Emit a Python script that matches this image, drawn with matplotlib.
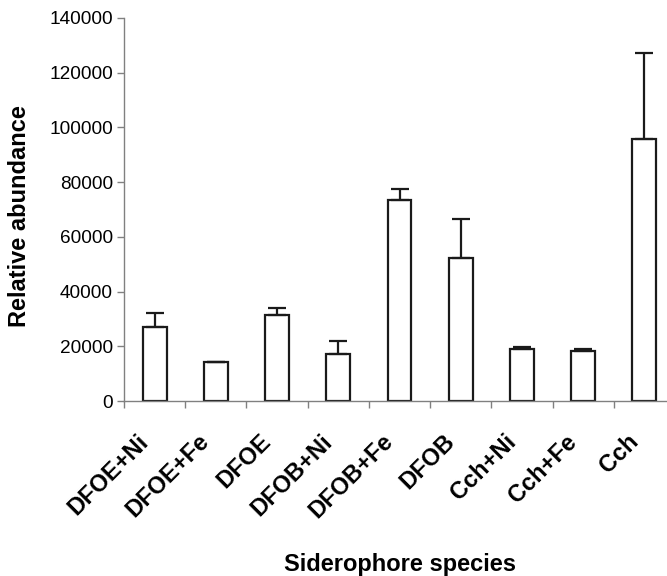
import numpy as np
import matplotlib
matplotlib.use("Agg")
import matplotlib.pyplot as plt
import matplotlib.transforms as mtransforms

# values
species = ['DFOE+Ni', 'DFOE+Fe', 'DFOE', 'DFOB+Ni', 'DFOB+Fe', 'DFOB', 'Cch+Ni', 'Cch+Fe', 'Cch']
abundance = [27200, 14400, 31400, 17100, 73500, 52400, 19100, 18400, 95900]
err_upper = [4800, 0, 2600, 4700, 4000, 14100, 600, 600, 31200]
yticks = [0, 20000, 40000, 60000, 80000, 100000, 120000, 140000]

plt.rcParams['font.family'] = ['Liberation Sans', 'DejaVu Sans']

fig = plt.figure(figsize=(6.67, 5.76), dpi=100)
ax = fig.add_axes([124 / 667, 1 - 401 / 576, 551 / 667, 383 / 576])

x = np.arange(len(species))
ax.bar(x, abundance, width=0.39, color='white', edgecolor='#1a1a1a', linewidth=1.6, zorder=2)
ax.errorbar(x, abundance, yerr=[np.zeros(len(x)), err_upper], fmt='none',
            ecolor='#1a1a1a', elinewidth=1.6, capsize=6.3, capthick=1.6, zorder=3)

ax.set_xlim(-0.5, len(species) - 0.5)
ax.set_ylim(0, 140000)
ax.set_yticks(yticks)
ax.set_yticklabels([str(v) for v in yticks], fontsize=13.7)

# category labels: rotated and shifted left of the bar centre, like the original
ax.set_xticks([])
ax.set_xticks(np.arange(-0.5, len(species)), minor=True)
offset = mtransforms.ScaledTranslation(-18 / 100, -29 / 100, fig.dpi_scale_trans)
for xi, name in zip(x, species):
    ax.text(xi, 0, name, transform=ax.get_xaxis_transform() + offset,
            rotation=45, ha='right', va='top', rotation_mode='anchor',
            fontsize=17, fontweight='bold')
ax.tick_params(axis='x', which='minor', length=5, width=1, color='#808080', direction='out')
ax.tick_params(axis='y', length=5, width=1, color='#808080', pad=3)

for side in ['top', 'right']:
    ax.spines[side].set_visible(False)
for side in ['left', 'bottom']:
    ax.spines[side].set_color('#808080')
    ax.spines[side].set_linewidth(1.0)

fig.text(20 / 667, 1 - 216 / 576, 'Relative abundance', fontsize=17, fontweight='bold',
         rotation=90, ha='center', va='center')
fig.text(400 / 667, 1 - 565 / 576, 'Siderophore species', fontsize=17, fontweight='bold',
         ha='center', va='center')

fig.savefig('out.png', dpi=100)
